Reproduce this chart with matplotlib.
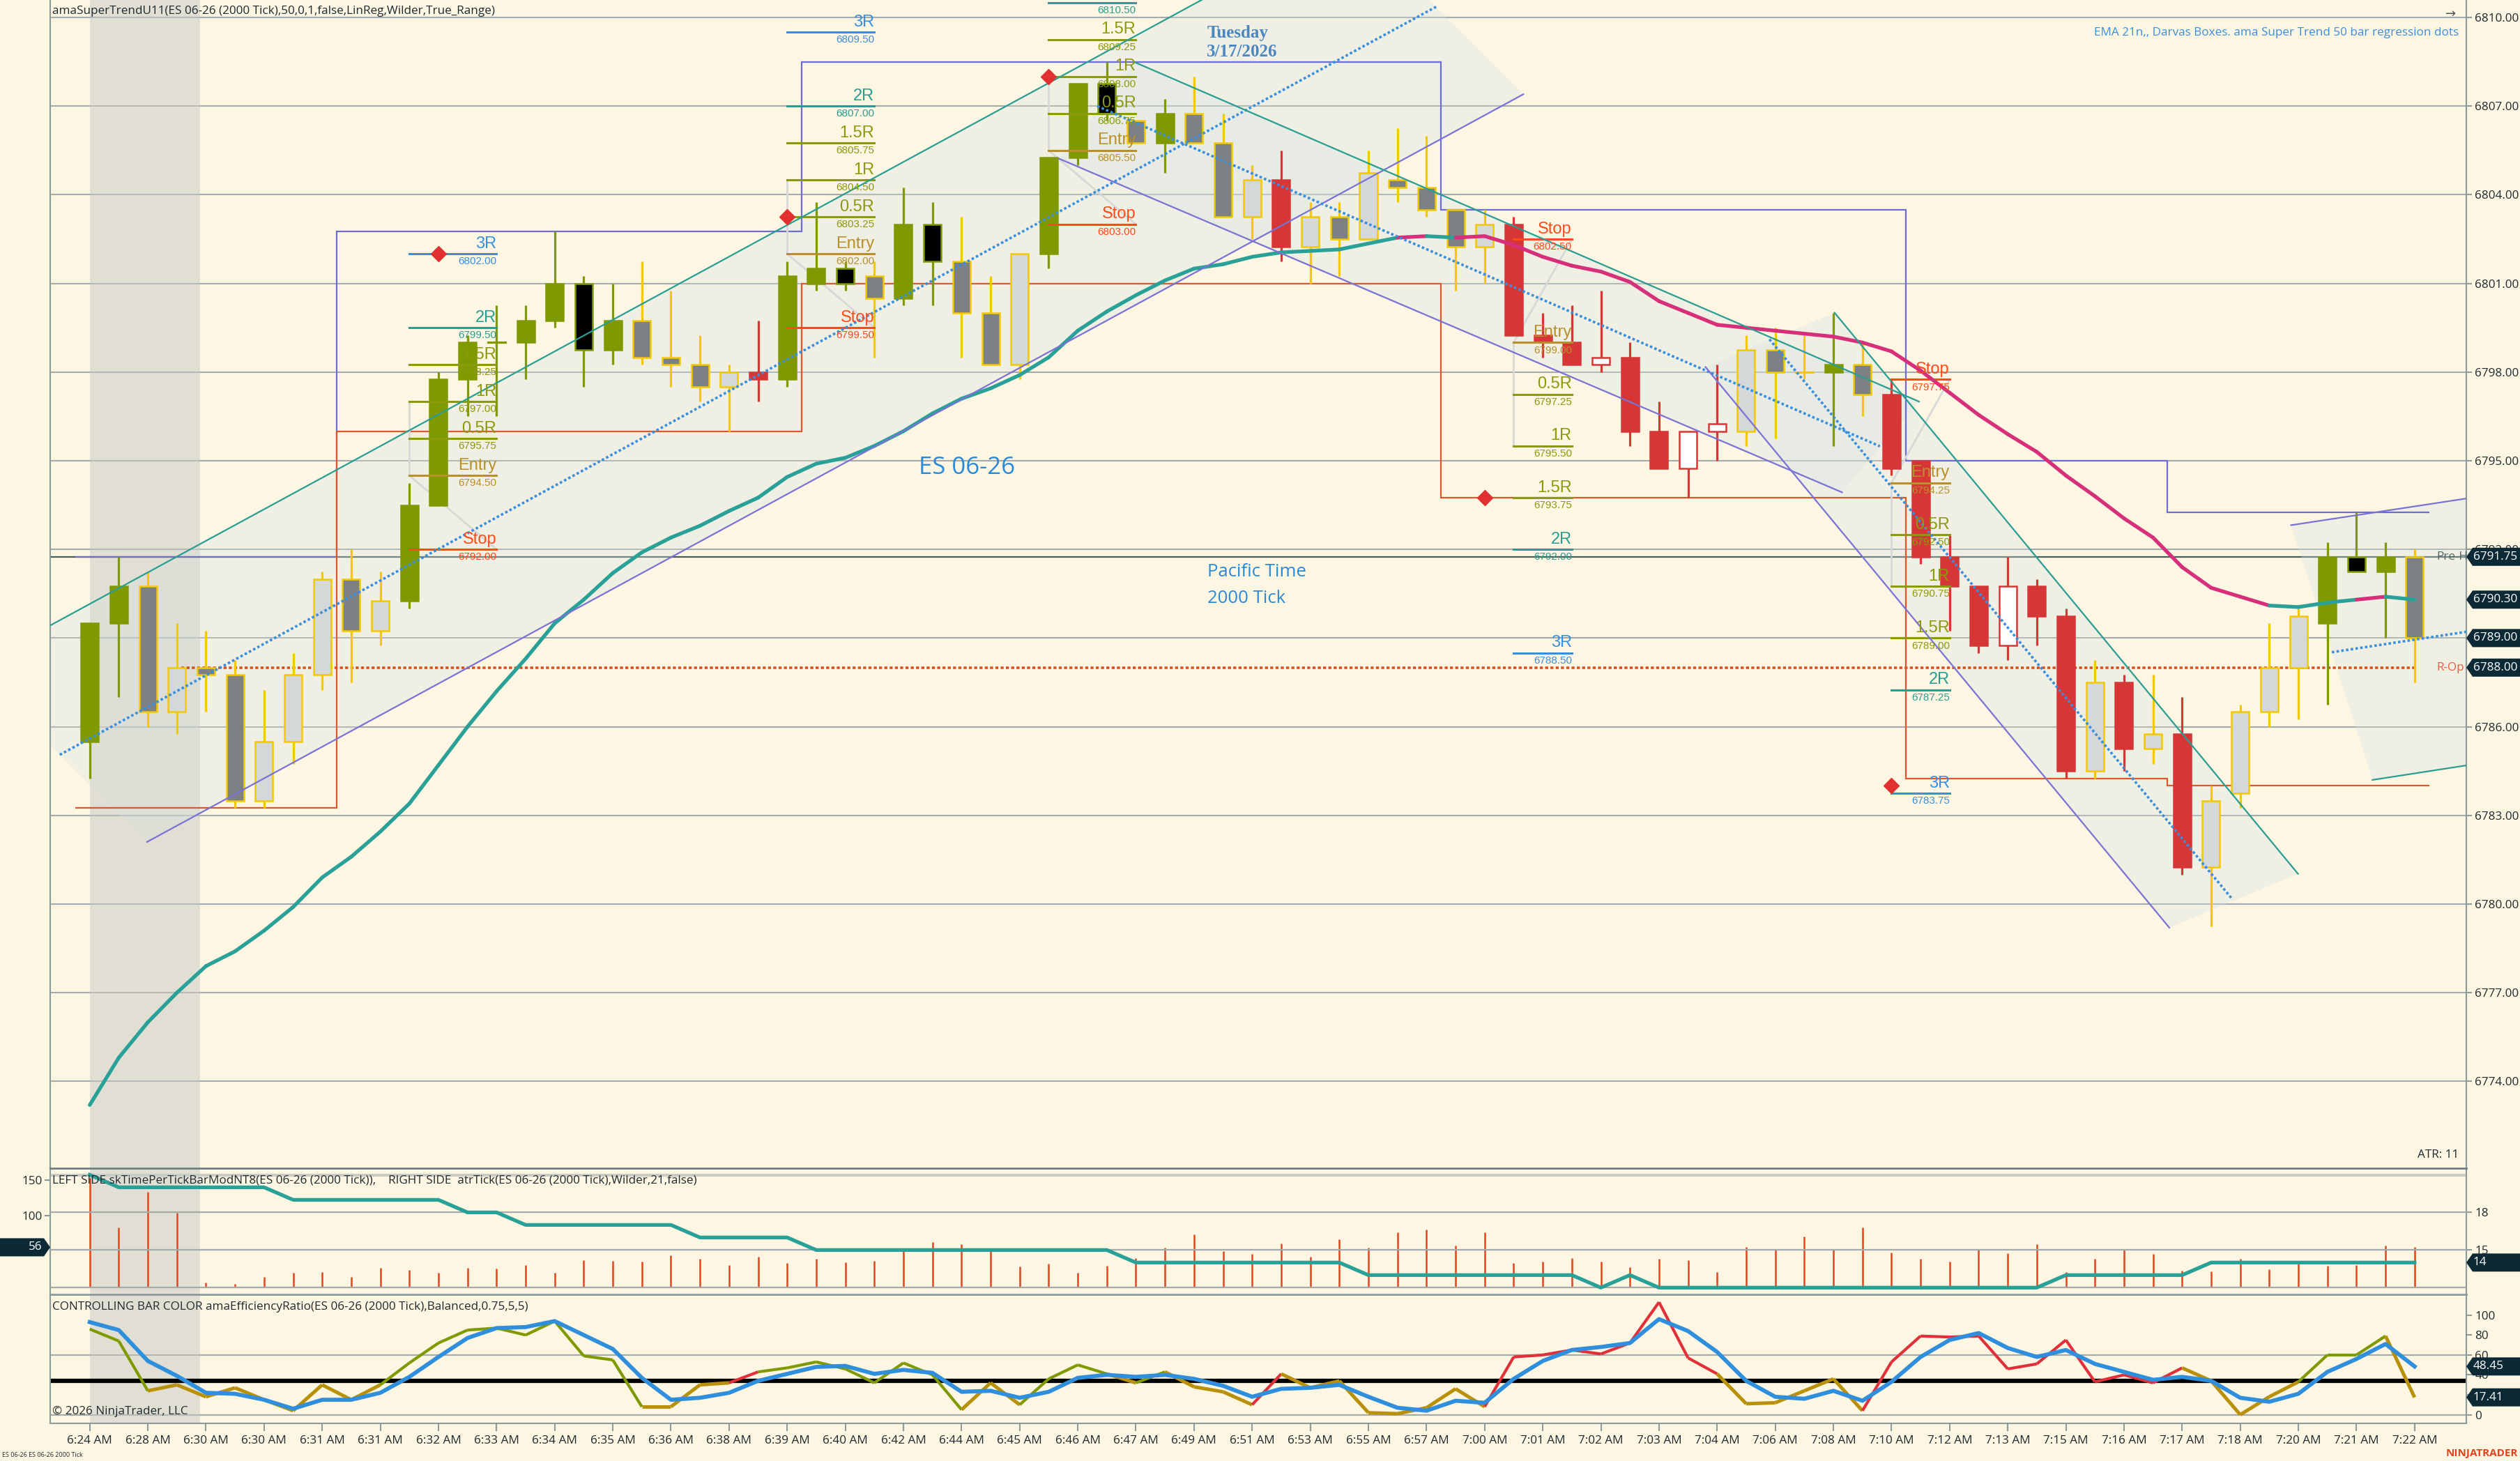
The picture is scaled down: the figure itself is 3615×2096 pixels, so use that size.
import numpy as np
import matplotlib
matplotlib.use('Agg')
import matplotlib.pyplot as plt
from matplotlib.patches import Rectangle, Polygon
from matplotlib.collections import LineCollection

# ---------------- data ----------------
opens = [6785.5, 6789.5, 6790.75, 6786.5, 6788.0, 6787.75, 6783.5, 6785.5, 6787.75, 6791.0,
         6789.25, 6790.25, 6793.5, 6797.75, 6799.0, 6799.0, 6799.75, 6801.0, 6798.75, 6799.75,
         6798.5, 6798.25, 6797.5, 6798.0, 6797.75, 6801.0, 6801.5, 6801.25, 6800.5, 6803.0,
         6801.75, 6800.0, 6798.25, 6802.0, 6805.25, 6807.75, 6806.5, 6805.75, 6806.75, 6805.75,
         6803.25, 6804.5, 6802.25, 6803.25, 6802.5, 6804.5, 6804.25, 6803.5, 6802.25, 6803.0,
         6799.25, 6799.0, 6798.25, 6798.5, 6796.0, 6794.75, 6796.0, 6796.0, 6798.75, 6798.0,
         6798.0, 6798.25, 6797.25, 6795.0, 6791.75, 6790.75, 6788.75, 6790.75, 6789.75, 6784.5,
         6787.5, 6785.25, 6785.75, 6781.25, 6783.75, 6786.5, 6788.0, 6789.5, 6791.75, 6791.25,
         6791.75]
highs = [6789.5, 6791.75, 6791.25, 6789.5, 6789.25, 6788.25, 6787.25, 6788.5, 6791.25, 6792.0,
         6791.25, 6794.25, 6798.0, 6799.25, 6800.25, 6800.25, 6802.75, 6801.25, 6801.0, 6801.75,
         6800.75, 6799.25, 6798.25, 6799.75, 6801.75, 6803.75, 6801.75, 6801.75, 6804.25, 6803.75,
         6803.25, 6801.25, 6802.0, 6805.25, 6807.75, 6808.5, 6806.5, 6807.25, 6808.0, 6806.75,
         6805.0, 6805.5, 6803.75, 6803.75, 6805.5, 6806.25, 6806.0, 6803.5, 6803.5, 6803.25,
         6800.0, 6800.25, 6800.75, 6799.0, 6797.0, 6796.0, 6798.25, 6799.25, 6799.5, 6799.25,
         6800.0, 6799.0, 6797.75, 6795.0, 6792.5, 6790.75, 6791.75, 6791.0, 6790.0, 6788.25,
         6787.75, 6787.75, 6787.0, 6784.0, 6786.75, 6789.5, 6790.0, 6792.25, 6793.25, 6792.25,
         6792.0]
lows = [6784.25, 6787.0, 6786.0, 6785.75, 6786.5, 6783.25, 6783.25, 6784.75, 6787.25, 6787.5,
        6788.75, 6790.0, 6793.5, 6796.5, 6796.5, 6797.75, 6799.5, 6797.5, 6798.25, 6798.25,
        6797.5, 6797.0, 6796.0, 6797.0, 6797.5, 6800.75, 6800.75, 6798.5, 6800.25, 6800.25,
        6798.5, 6798.25, 6797.75, 6801.5, 6805.0, 6806.5, 6805.75, 6804.75, 6805.75, 6803.25,
        6802.5, 6801.75, 6801.0, 6801.25, 6802.5, 6803.75, 6803.25, 6800.75, 6801.0, 6799.25,
        6798.5, 6798.25, 6798.0, 6795.5, 6794.75, 6793.75, 6795.0, 6795.5, 6795.75, 6797.75,
        6795.5, 6796.5, 6794.5, 6791.5, 6789.25, 6788.5, 6788.25, 6788.75, 6784.25, 6784.25,
        6784.5, 6784.75, 6781.0, 6779.25, 6783.25, 6786.0, 6786.25, 6786.75, 6791.25, 6789.0,
        6787.5]
closes = [6789.5, 6790.75, 6786.5, 6788.0, 6787.75, 6783.5, 6785.5, 6787.75, 6791.0, 6789.25,
          6790.25, 6793.5, 6797.75, 6799.0, 6799.0, 6799.75, 6801.0, 6798.75, 6799.75, 6798.5,
          6798.25, 6797.5, 6798.0, 6797.75, 6801.25, 6801.5, 6801.0, 6800.5, 6803.0, 6801.75,
          6800.0, 6798.25, 6802.0, 6805.25, 6807.75, 6806.75, 6805.75, 6806.75, 6805.75, 6803.25,
          6804.5, 6802.25, 6803.25, 6802.5, 6804.75, 6804.25, 6803.5, 6802.25, 6803.0, 6799.25,
          6799.0, 6798.25, 6798.5, 6796.0, 6794.75, 6796.0, 6796.25, 6798.75, 6798.0, 6798.0,
          6798.25, 6797.25, 6794.75, 6791.75, 6790.75, 6788.75, 6790.75, 6789.75, 6784.5, 6787.5,
          6785.25, 6785.75, 6781.25, 6783.5, 6786.5, 6788.0, 6789.75, 6791.75, 6791.25, 6791.75,
          6789.0]
bar_colors = ['olive', 'olive', 'gray', 'lgray', 'gray', 'gray', 'lgray', 'lgray', 'lgray', 'gray',
              'lgray', 'olive', 'olive', 'olive', 'olive', 'olive', 'olive', 'black', 'olive', 'gray',
              'gray', 'gray', 'lgray', 'red', 'olive', 'olive', 'black', 'gray', 'olive', 'black',
              'gray', 'gray', 'lgray', 'olive', 'olive', 'black', 'gray', 'olive', 'gray', 'gray',
              'lgray', 'red', 'lgray', 'gray', 'lgray', 'gray', 'gray', 'gray', 'lgray', 'red',
              'red', 'red', 'white', 'red', 'red', 'white', 'white', 'lgray', 'gray', 'lgray',
              'olive', 'gray', 'red', 'red', 'red', 'red', 'white', 'red', 'red', 'lgray',
              'red', 'lgray', 'red', 'lgray', 'lgray', 'lgray', 'lgray', 'olive', 'black', 'olive',
              'gray']

ema21 = [6773.2, 6774.8, 6776.0, 6777.0, 6777.9, 6778.4, 6779.1, 6779.9, 6780.9, 6781.6,
         6782.45, 6783.4, 6784.7, 6786.0, 6787.2, 6788.3, 6789.5, 6790.3, 6791.2, 6791.9,
         6792.4, 6792.8, 6793.3, 6793.75, 6794.45, 6794.9, 6795.1, 6795.5, 6796.0, 6796.6,
         6797.1, 6797.45, 6797.9, 6798.5, 6799.4, 6800.05, 6800.6, 6801.1, 6801.5, 6801.65,
         6801.9, 6802.05, 6802.1, 6802.15, 6802.35, 6802.55, 6802.6, 6802.55, 6802.6, 6802.3,
         6801.9, 6801.6, 6801.4, 6801.05, 6800.4, 6800.0, 6799.6, 6799.5, 6799.4, 6799.3,
         6799.2, 6799.0, 6798.7, 6798.05, 6797.3, 6796.55, 6795.9, 6795.3, 6794.5, 6793.8,
         6793.05, 6792.4, 6791.4, 6790.7, 6790.4, 6790.1, 6790.05, 6790.2, 6790.3, 6790.4,
         6790.3]
# u = rising (teal), d = falling (magenta); colour of segment ending at bar i
ema_dir = ('u' * 46 + 'd' + 'u' + 'd' * 28 + 'uuu' + 'd' + 'u')

time_per_tick = [153, 84, 134, 104, 7, 5, 14, 20, 21, 14,
                 27, 24, 20, 27, 26, 31, 20, 38, 37, 36,
                 45, 40, 31, 43, 34, 40, 35, 37, 52, 63,
                 60, 52, 29, 33, 20, 30, 41, 55, 74, 51,
                 47, 61, 43, 67, 55, 77, 81, 58, 77, 34,
                 36, 41, 36, 28, 40, 38, 21, 56, 52, 71,
                 52, 84, 49, 40, 36, 52, 48, 60, 21, 40,
                 53, 47, 23, 22, 40, 25, 33, 30, 31, 58,
                 56]
atr_tick = ([21] + [20] * 6 + [19] * 6 + [18] * 2 + [17] * 6 + [16] * 4 + [15] * 11 +
            [14] * 8 + [13] * 8 + [12] + [13] + [12] * 14 + [13] * 5 + [14] * 8)

er_fast = [86, 74, 24, 30, 18, 27, 15, 4, 30, 15,
           30, 52, 72, 85, 87, 80, 94, 59, 55, 8,
           8, 30, 32, 43, 47, 53, 46, 32, 52, 40,
           5, 32, 10, 36, 50, 41, 32, 43, 28, 23,
           10, 41, 27, 34, 2, 1, 7, 26, 8, 58,
           60, 65, 61, 72, 113, 57, 41, 11, 12, 24,
           36, 4, 53, 79, 78, 79, 46, 51, 75, 33,
           40, 32, 47, 34, 0, 18, 33, 60, 60, 79,
           17.41]
er_state = ('ggg' + 'y' * 8 + 'g' * 9 + 'yyy' + 'r' + 'g' * 7 + 'yy' + 'ggg' + 'y' + 'g' + 'yyy' +
            'r' + 'y' * 7 + 'r' * 8 + 'y' * 5 + 'r' * 11 + 'yyyy' + 'ggg' + 'y')
er_slow = [93, 85, 54, 39, 22, 21, 15, 6, 15, 15,
           22, 38, 58, 77, 87, 88, 94, 80, 66, 37,
           15, 17, 22, 34, 41, 48, 49, 41, 45, 42,
           23, 24, 17, 23, 37, 40, 38, 40, 36, 29,
           18, 26, 27, 30, 18, 7, 4, 14, 12, 36,
           54, 65, 68, 72, 96, 84, 63, 34, 18, 16,
           24, 14, 33, 58, 75, 82, 67, 58, 65, 51,
           43, 35, 38, 34, 17, 13, 21, 43, 56, 71,
           48.45]
er_level = 34

time_labels = ['6:24 AM', '6:28 AM', '6:30 AM', '6:30 AM', '6:31 AM', '6:31 AM', '6:32 AM', '6:33 AM',
               '6:34 AM', '6:35 AM', '6:36 AM', '6:38 AM', '6:39 AM', '6:40 AM', '6:42 AM', '6:44 AM',
               '6:45 AM', '6:46 AM', '6:47 AM', '6:49 AM', '6:51 AM', '6:53 AM', '6:55 AM', '6:57 AM',
               '7:00 AM', '7:01 AM', '7:02 AM', '7:03 AM', '7:04 AM', '7:06 AM', '7:08 AM', '7:10 AM',
               '7:12 AM', '7:13 AM', '7:15 AM', '7:16 AM', '7:17 AM', '7:18 AM', '7:20 AM', '7:21 AM',
               '7:22 AM']

# darvas boxes
box_edges = [-0.5, 8.5, 24.5, 46.5, 62.5, 71.5, 80.5]
box_tops = [6791.75, 6802.75, 6808.5, 6803.5, 6795.0, 6793.25]
box_bottoms = [6783.25, 6796.0, 6801.0, 6793.75, 6784.25, 6784.0]

# regression channels: (x0, y0, x1, y1) in bar / price units
chan_upper = [(-4.03, 6788.0, 43.33, 6813.3), (35.97, 6808.48, 62.95, 6797.0),
              (60.04, 6800.01, 75.99, 6781.02), (75.75, 6792.82, 82.5, 6793.83)]
chan_mid = [(-1.03, 6785.05, 46.33, 6810.36), (34.67, 6807.0, 61.6, 6795.49),
            (57.8, 6799.11, 73.74, 6780.15), (77.15, 6788.52, 82.5, 6789.32)]
chan_lower = [(1.97, 6782.1, 49.33, 6807.4), (33.36, 6805.22, 60.3, 6793.93),
              (55.6, 6798.17, 71.56, 6779.2), (78.55, 6784.2, 82.5, 6784.8)]
chan_upper_col = ['teal', 'teal', 'teal', 'purple']
chan_lower_col = ['purple', 'purple', 'purple', 'teal']

# risk/reward target groups
level_names = ['3R', '2R', '1.5R', '1R', '0.5R', 'Entry', 'Stop']
trade_x0 = [11, 24, 33, 49, 62]
trade_x1 = [14, 27, 36, 51, 64]
trade_levels = [[6802.0, 6799.5, 6798.25, 6797.0, 6795.75, 6794.5, 6792.0],
                [6809.5, 6807.0, 6805.75, 6804.5, 6803.25, 6802.0, 6799.5],
                [6813.0, 6810.5, 6809.25, 6808.0, 6806.75, 6805.5, 6803.0],
                [6788.5, 6792.0, 6793.75, 6795.5, 6797.25, 6799.0, 6802.5],
                [6783.75, 6787.25, 6789.0, 6790.75, 6792.5, 6794.25, 6797.75]]
diamond_x = [12, 24, 33, 48, 62]
diamond_y = [6802.0, 6803.25, 6808.0, 6793.75, 6784.0]

pre_high = 6791.75
r_open = 6788.0
r_open_start = 3.15
session_span = (0.0, 3.8)

# ---------------- style ----------------
UI = 'Open Sans'
ARIAL = 'Liberation Sans'
SERIF = 'Liberation Serif'
plt.rcParams['font.family'] = [UI, 'DejaVu Sans']
FS = 12.3

BG = '#fdf6e3'
GRID = '#a3abab'
AXC = '#8c9a9a'
BOX = '#0c2a35'
TXT = '#1e2a2e'
col = {'teal': '#2a9d92', 'purple': '#7a72d4', 'blue': '#3a8fdc'}
candle_style = {
    'olive': ('#7f9a00', '#7f9a00', '#7f9a00'),
    'black': ('#000000', '#7f9a00', '#7f9a00'),
    'gray': ('#7d8183', '#f2c800', '#f2c800'),
    'lgray': ('#d4d8d9', '#f2c800', '#f2c800'),
    'red': ('#d63636', '#d63636', '#d63636'),
    'white': ('#ffffff', '#d63636', '#d63636'),
}
level_colors = {'Stop': '#ff4a1a', 'Entry': '#b8902a', '0.5R': '#8a9a0c', '1R': '#8a9a0c',
                '1.5R': '#8a9a0c', '2R': '#2a9d92', '3R': '#3a8fdc'}
er_colors = {'g': '#7f9a00', 'y': '#b8900a', 'r': '#e0303a'}

W, H = 3616, 2096
fig = plt.figure(figsize=(W / 100, H / 100), dpi=100, facecolor=BG)


def frac(x0, y0, x1, y1):
    return [x0 / W, 1 - y1 / H, (x1 - x0) / W, (y1 - y0) / H]


AXR = 3538
ax = fig.add_axes(frac(72, 0, AXR, 1676))
ax1 = fig.add_axes(frac(72, 1676, AXR, 1857))
ax2 = fig.add_axes(frac(72, 1857, AXR, 2042))
n = len(closes)
xs = np.arange(n)
XL = (-1.36, 81.78)
YL = (6771.06, 6810.59)

for a in (ax, ax1, ax2):
    a.set_facecolor(BG)
    a.set_xlim(*XL)
    for s in a.spines.values():
        s.set_color(AXC)
        s.set_linewidth(1.5)
    a.axvspan(*session_span, color='#c7cac5', alpha=0.5, lw=0, zorder=0.6)

# ---------------- main price panel ----------------
ax.set_ylim(*YL)
ax.spines['top'].set_visible(False)
ax.spines['bottom'].set_visible(False)
ax.set_xticks([])
yt = np.arange(6774, 6811, 3)
ax.yaxis.tick_right()
ax.set_yticks(yt)
ax.set_yticklabels(['' if v == closes[-1] else f'{v:.2f}' for v in yt])
ax.tick_params(axis='y', length=6, width=1.5, color=AXC, labelsize=FS, labelcolor=TXT, pad=3)
for v in yt:
    ax.axhline(v, color=GRID, lw=1.5, zorder=0.5)
ax.axhline(pre_high, color='#40605f', lw=1.6, zorder=0.7)
ax.plot([r_open_start, 80], [r_open, r_open], color='#d9501e', lw=2.6, ls=(0, (1.2, 0.9)), zorder=3)

# regression channels
for k in range(len(chan_mid)):
    up, md, lo = chan_upper[k], chan_mid[k], chan_lower[k]
    ax.add_patch(Polygon([(up[0], up[1]), (up[2], up[3]), (lo[2], lo[3]), (lo[0], lo[1])],
                         closed=True, fc='#d5e2e3', alpha=0.3, lw=0, zorder=1))

# darvas boxes
ax.stairs(box_tops, box_edges, baseline=None, color='#6c6cd4', lw=1.6, zorder=3)
ax.stairs(box_bottoms, box_edges, baseline=None, color='#e0562c', lw=1.6, zorder=3)

# candles
for i in range(n):
    fc, ec, wc = candle_style[bar_colors[i]]
    ax.plot([i, i], [lows[i], highs[i]], color=wc, lw=2.3, zorder=5, solid_capstyle='butt')
    lo_, hi_ = sorted((opens[i], closes[i]))
    if hi_ - lo_ < 0.05:
        ax.plot([i - 0.3, i + 0.3], [lo_, lo_], color=wc, lw=2.3, zorder=5.5)
    else:
        ax.add_patch(Rectangle((i - 0.3, lo_), 0.6, hi_ - lo_, fc=fc, ec=ec, lw=1.8, zorder=5.5))

# channel lines on top of candles
for k in range(len(chan_mid)):
    up, md, lo = chan_upper[k], chan_mid[k], chan_lower[k]
    ax.plot([up[0], up[2]], [up[1], up[3]], color=col[chan_upper_col[k]], lw=1.6, zorder=7)
    ax.plot([lo[0], lo[2]], [lo[1], lo[3]], color=col[chan_lower_col[k]], lw=1.6, zorder=7)
    ax.plot([md[0], md[2]], [md[1], md[3]], color=col['blue'], lw=2.6, ls=(0, (1, 0.9)), zorder=7)

# EMA 21, coloured by direction
segs = [[(i - 1, ema21[i - 1]), (i, ema21[i])] for i in range(1, n)]
ecols = ['#2aa198' if ema_dir[i] == 'u' else '#d6307a' for i in range(1, n)]
ax.add_collection(LineCollection(segs, colors=ecols, linewidths=3.8, zorder=6.5, capstyle='round'))

# trade target groups
for g in range(len(trade_levels)):
    x0, x1 = trade_x0[g], trade_x1[g]
    lv = dict(zip(level_names, trade_levels[g]))
    ax.plot([x0, x0], [lv['1R'], lv['Entry']], color='#d8d8d8', lw=2, zorder=4)
    ax.plot([x0, x1], [lv['Entry'], lv['Stop']], color='#d8d8d8', lw=2, zorder=4)
    for name, p in lv.items():
        c = level_colors[name]
        ax.plot([x0, x1], [p, p], color=c, lw=2.2, zorder=6)
        if p + 0.6 < YL[1]:
            ax.text(x1, p + 0.08, name, ha='right', va='bottom', fontsize=17, color=c,
                    family=ARIAL, zorder=8)
        if p < YL[1]:
            ax.text(x1, p - 0.1, f'{p:.2f}', ha='right', va='top', fontsize=11, color=c,
                    family=ARIAL, zorder=8)
    ax.plot(diamond_x[g], diamond_y[g], marker='D', ms=11, color='#e03030', mec='#e03030', zorder=8)

ax.text(28.53, 6794.76, 'ES 06-26', fontsize=25, color='#2b8ad6', va='center', ha='left', zorder=8)
ax.text(38.46, 6791.23, 'Pacific Time', fontsize=18.5, color='#2b8ad6', va='center', zorder=8)
ax.text(38.46, 6790.35, '2000 Tick', fontsize=18.5, color='#2b8ad6', va='center', zorder=8)
ax.text(38.44, 6809.46, 'Tuesday', fontsize=18, family=SERIF, weight='bold', color='#4a86c0',
        va='center', zorder=8)
ax.text(38.44, 6808.83, '3/17/2026', fontsize=18, family=SERIF, weight='bold', color='#4a86c0',
        va='center', zorder=8)
ax.text(80.75, pre_high, 'Pre-H', fontsize=FS, color='#4f6565', va='center', ha='left', zorder=8, clip_on=False)
ax.text(80.75, r_open, 'R-Op', fontsize=FS, color='#e06040', va='center', ha='left', zorder=8, clip_on=False)


def value_box(a, y, txt, side='right'):
    # NinjaTrader-style price marker with a pointed side, drawn in figure pixels
    yc = a.transData.transform((0, y))[1]
    h = 26
    if side == 'right':
        xt = AXR
        pts = [(xt, yc), (xt + 9, yc + h / 2), (W, yc + h / 2), (W, yc - h / 2), (xt + 9, yc - h / 2)]
        fig.patches.append(Polygon(pts, closed=True, transform=None, fc=BOX, ec=BOX, lw=0, zorder=20))
        fig.text((xt + 10) / W, yc / H, txt, ha='left', va='center', color='white', fontsize=FS, zorder=21)
    else:
        xt = 72
        pts = [(xt, yc), (xt - 9, yc + h / 2), (0, yc + h / 2), (0, yc - h / 2), (xt - 9, yc - h / 2)]
        fig.patches.append(Polygon(pts, closed=True, transform=None, fc=BOX, ec=BOX, lw=0, zorder=20))
        fig.text((xt - 12) / W, yc / H, txt, ha='right', va='center', color='white', fontsize=FS, zorder=21)


value_box(ax, pre_high, f'{pre_high:.2f}')
value_box(ax, ema21[-1], f'{ema21[-1]:.2f}')
value_box(ax, closes[-1], f'{closes[-1]:.2f}')
value_box(ax, r_open, f'{r_open:.2f}')

# ---------------- panel 1: time per tick / ATR ----------------
ax1.set_ylim(-10.1, 166.9)
ax1.spines['top'].set_color('#6d7f84')
ax1.spines['top'].set_linewidth(2)
ax1.spines['bottom'].set_visible(False)
ax1.set_xticks([])
ax1.set_yticks([100, 150])
ax1.tick_params(axis='y', length=6, width=1.5, color=AXC, labelsize=FS, labelcolor=TXT, pad=2)
ax1.axhline(157, color='#c9ccc4', lw=3, zorder=0.7)
ax1.vlines(xs, 0, time_per_tick, color='#e0461c', lw=1.8, zorder=3)
ax1r = ax1.twinx()
ax1r.set_xlim(*XL)
ax1r.set_ylim(11.46, 21.52)
for s in ax1r.spines.values():
    s.set_visible(False)
ax1r.set_yticks([15, 18])
ax1r.tick_params(axis='y', length=6, width=1.5, color=AXC, labelsize=FS, labelcolor=TXT, pad=3)
for v in (12, 15, 18):
    ax1r.axhline(v, color=GRID, lw=1.6, zorder=0.5)
ax1r.plot(xs, atr_tick, color='#2aa198', lw=3.8, zorder=4)

# ---------------- panel 2: efficiency ratio ----------------
ax2.set_ylim(-8.7, 120.8)
ax2.spines['top'].set_color('#8d9b9b')
ax2.spines['top'].set_linewidth(2)
ax2.yaxis.tick_right()
ax2.set_yticks([0, 20, 40, 60, 80, 100])
ax2.set_yticklabels(['0', '', '40', '60', '80', '100'])
ax2.tick_params(axis='y', length=6, width=1.5, color=AXC, labelsize=FS, labelcolor=TXT, pad=3)
for v in (0, 60):
    ax2.axhline(v, color=GRID, lw=1.6, zorder=0.5)
ax2.axhline(er_level, color='black', lw=4.5, zorder=2)
segs = [[(i - 1, er_fast[i - 1]), (i, er_fast[i])] for i in range(1, n)]
scol = [er_colors[er_state[i]] for i in range(1, n)]
swid = [3.6 if er_state[i] == 'y' else 3.0 for i in range(1, n)]
ax2.add_collection(LineCollection(segs, colors=scol, linewidths=swid, zorder=3))
ax2.plot(xs, er_slow, color='#2f8fdc', lw=4.2, zorder=4)
ax2.set_xticks(xs[::2])
ax2.set_xticklabels(time_labels)
ax2.tick_params(axis='x', length=8, width=1.5, color=AXC, labelsize=FS, labelcolor=TXT, pad=4)

value_box(ax1r, atr_tick[-1], f'{atr_tick[-1]}')
value_box(ax1, time_per_tick[-1], f'{time_per_tick[-1]}', side='left')
value_box(ax2, er_slow[-1], f'{er_slow[-1]:.2f}')
value_box(ax2, er_fast[-1], f'{er_fast[-1]:.2f}')

# ---------------- figure texts ----------------
fig.text(75 / W, 1 - 16 / H, 'amaSuperTrendU11(ES 06-26 (2000 Tick),50,0,1,false,LinReg,Wilder,True_Range)',
         fontsize=FS, color=TXT, va='center')
fig.text(3527 / W, 1 - 47 / H, 'EMA 21n,, Darvas Boxes. ama Super Trend 50 bar regression dots',
         fontsize=FS, color='#3a8fdc', va='center', ha='right')
fig.text(3516 / W, 1 - 20 / H, '\u2192', fontsize=13, color='#555555', va='center', ha='center',
         family='DejaVu Sans')
fig.text(3527 / W, 1 - 1657 / H, 'ATR: 11', fontsize=FS, color=TXT, va='center', ha='right')
fig.text(75 / W, 1 - 1693 / H,
         'LEFT SIDE skTimePerTickBarModNT8(ES 06-26 (2000 Tick)),    RIGHT SIDE  atrTick(ES 06-26 (2000 Tick),Wilder,21,false)',
         fontsize=FS, color=TXT, va='center')
fig.text(75 / W, 1 - 1875 / H,
         'CONTROLLING BAR COLOR amaEfficiencyRatio(ES 06-26 (2000 Tick),Balanced,0.75,5,5)',
         fontsize=FS, color=TXT, va='center')
fig.text(75 / W, 1 - 2025 / H, '\u00a9 2026 NinjaTrader, LLC', fontsize=FS, color=TXT, va='center')
fig.text(3 / W, 1 - 2087 / H, 'ES 06-26 ES 06-26 2000 Tick', fontsize=6.5, color=TXT, va='center')
fig.text(3612 / W, 1 - 2085 / H, 'NINJATRADER', fontsize=11, color='#e8401c', va='center',
         ha='right', weight='bold')

fig.savefig('out.png', dpi=100, facecolor=BG)
